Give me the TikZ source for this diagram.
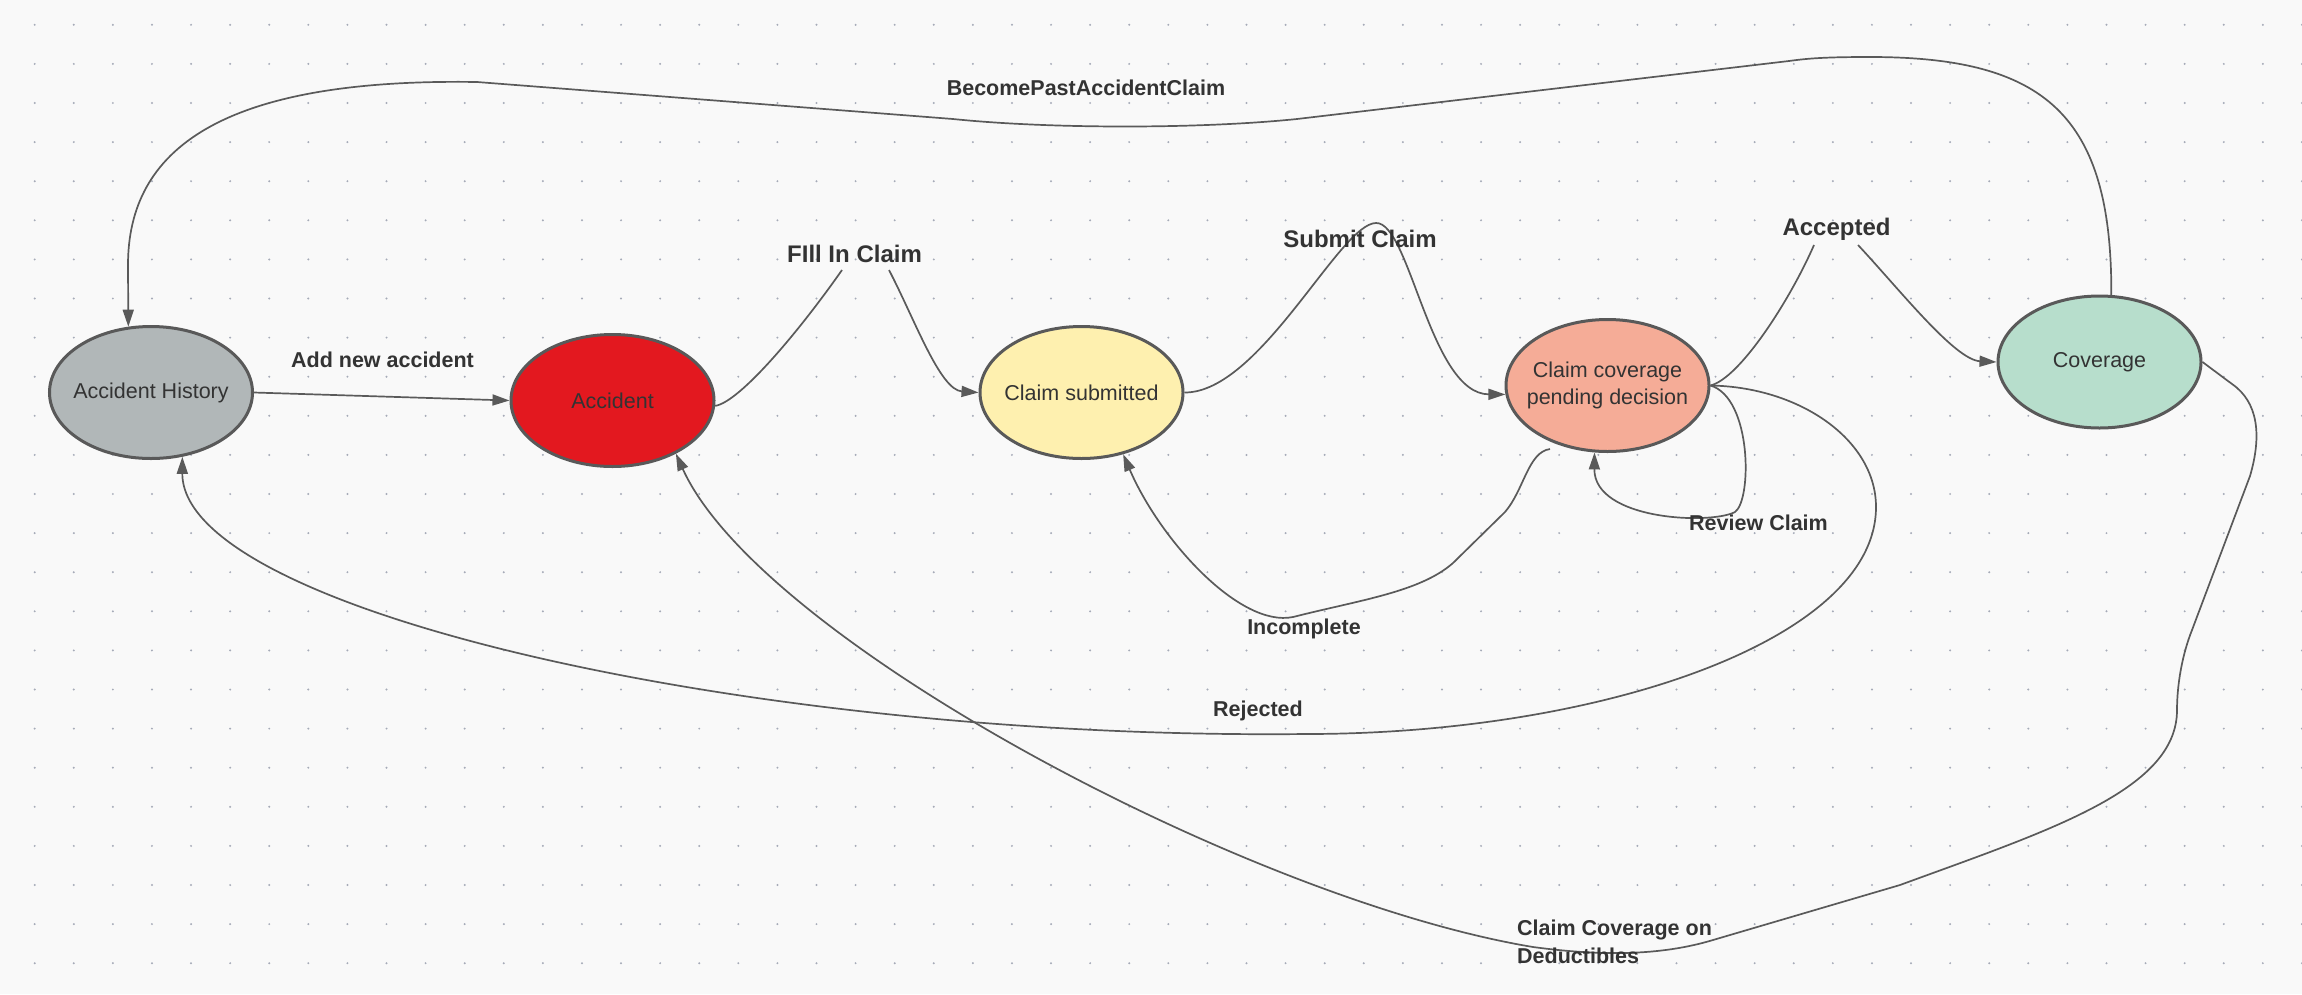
\documentclass[tikz,border=0pt]{standalone}
\usepackage{fontspec}
\setmainfont{Liberation Sans}
\usetikzlibrary{arrows.meta,shapes.geometric}
\definecolor{bgc}{HTML}{F9F9F9}
\definecolor{dotc}{HTML}{A6ABB8}
\definecolor{bordc}{HTML}{595959}
\definecolor{edgec}{HTML}{5A5A5A}
\definecolor{txtc}{HTML}{333333}
\definecolor{ahfill}{HTML}{B1B7B8}
\definecolor{accfill}{HTML}{E3181F}
\definecolor{csfill}{HTML}{FEF0AF}
\definecolor{ccfill}{HTML}{F5AC97}
\definecolor{covfill}{HTML}{B7DECC}
\begin{document}
\begin{tikzpicture}[x=1pt,y=-1pt,
  state/.style={ellipse,draw=bordc,line width=3pt,minimum width=203pt,minimum height=132pt,inner sep=0pt},
  stxt/.style={text=txtc,font=\fontsize{21.5}{27}\selectfont,align=center,inner sep=0pt},
  conn/.style={draw=edgec,line width=1.7pt},
  arr/.style={conn,-{Triangle[length=17pt,width=11pt]}},
  elab/.style={text=txtc,font=\bfseries\fontsize{21.5}{27.5}\selectfont,inner sep=0pt,anchor=base},
  elabL/.style={elab,font=\bfseries\fontsize{24}{28}\selectfont}]
\useasboundingbox (0,0) rectangle (2302,994);
\fill[bgc] (0,0) rectangle (2302,994);
\foreach \i in {0,...,58}{
  \foreach \j in {0,...,24}{
    \fill[dotc] (34.7+39.09*\i, 24.8+39.1*\j) circle (1.1pt);
  }
}
% states
\node[state,fill=ahfill,label={[stxt]center:Accident History}] (ah) at (151,392.5) {};
\node[state,fill=accfill,label={[stxt]center:Accident}] (acc) at (612.5,400.5) {};
\node[state,fill=csfill,label={[stxt]center:Claim submitted}] (cs) at (1081.5,392.5) {};
\node[state,fill=ccfill,label={[stxt]center:Claim coverage\\pending decision}] (ccpd) at (1607.5,385.5) {};
\node[state,fill=covfill,label={[stxt]center:Coverage}] (cov) at (2099.5,362) {};
% helper coordinates
\coordinate (fA) at (842,270);
\coordinate (fB) at (889,270);
\coordinate (aA) at (1814,245);
\coordinate (aB) at (1858,245);
\coordinate (incS) at (1550,449);
% connectors
\draw[arr] (ah.east) -- (acc.west);
\draw[conn] (acc.-3) .. controls (740,402) and (800,330) .. (fA);
\draw[arr] (fB) .. controls (915,320) and (940,390) .. (cs.west);
\draw[arr] (cs.east) .. controls (1260,393) and (1340,223) .. (1376,223)
  .. controls (1410,222) and (1430,394) .. (ccpd.-175);
\draw[conn] (ccpd.east) .. controls (1740,378) and (1790,300) .. (aA);
\draw[arr] (aB) .. controls (1900,290) and (1955,360) .. (cov.west);
\draw[arr] (ccpd.east) .. controls (1752,398) and (1752,500) .. (1735,512)
  .. controls (1710,525) and (1594,520) .. (ccpd.-101);
\draw[arr] (ccpd.east) .. controls (1800,387) and (1876,440) .. (1876,507)
  .. controls (1876,640) and (1600,734) .. (1306,734)
  .. controls (750,740) and (182,610) .. (ah.-64);
\draw[arr] (incS) .. controls (1528,452) and (1524,490) .. (1505,512) -- (1453,563)
  .. controls (1420,592) and (1360,600) .. (1293,617)
  .. controls (1240,628) and (1160,540) .. (cs.-56);
\draw[arr] (cov.80) .. controls (2112,115) and (2045,57) .. (1870,57)
  .. controls (1830,57) and (1810,58) .. (1789,61) -- (1297,119)
  .. controls (1200,129) and (1050,129) .. (953,119) -- (477,82)
  .. controls (220,78) and (128,150) .. (128,265) -- (ah.109);
\draw[arr] (cov.east) -- (2232,384) .. controls (2258,402) and (2262,435) .. (2250,476)
  -- (2192,630) .. controls (2182,655) and (2177,685) .. (2177,710)
  .. controls (2177,790) and (2050,830) .. (1900,885) -- (1713,940)
  .. controls (1660,956) and (1600,956) .. (1533,947)
  .. controls (1250,900) and (760,640) .. (acc.-40);
% labels
\node[elab] (lAdd) at (382.5,367) {Add new accident};
\node[elabL] (lFill) at (854.5,262) {FIll In Claim};
\node[elabL] (lSubmit) at (1360,247) {Submit Claim};
\node[elabL] (lAcc) at (1836.5,235.5) {Accepted};
\node[elab] (lRev) at (1758.5,530) {Review Claim};
\node[elab] (lBec) at (1086,95) {BecomePastAccidentClaim};
\node[elab] (lInc) at (1304,634) {Incomplete};
\node[elab] (lRej) at (1258,716) {Rejected};
\node[elab,align=left,anchor=north west] (lDed) at (1517,920) {Claim Coverage on\\Deductibles};
\end{tikzpicture}
\end{document}
